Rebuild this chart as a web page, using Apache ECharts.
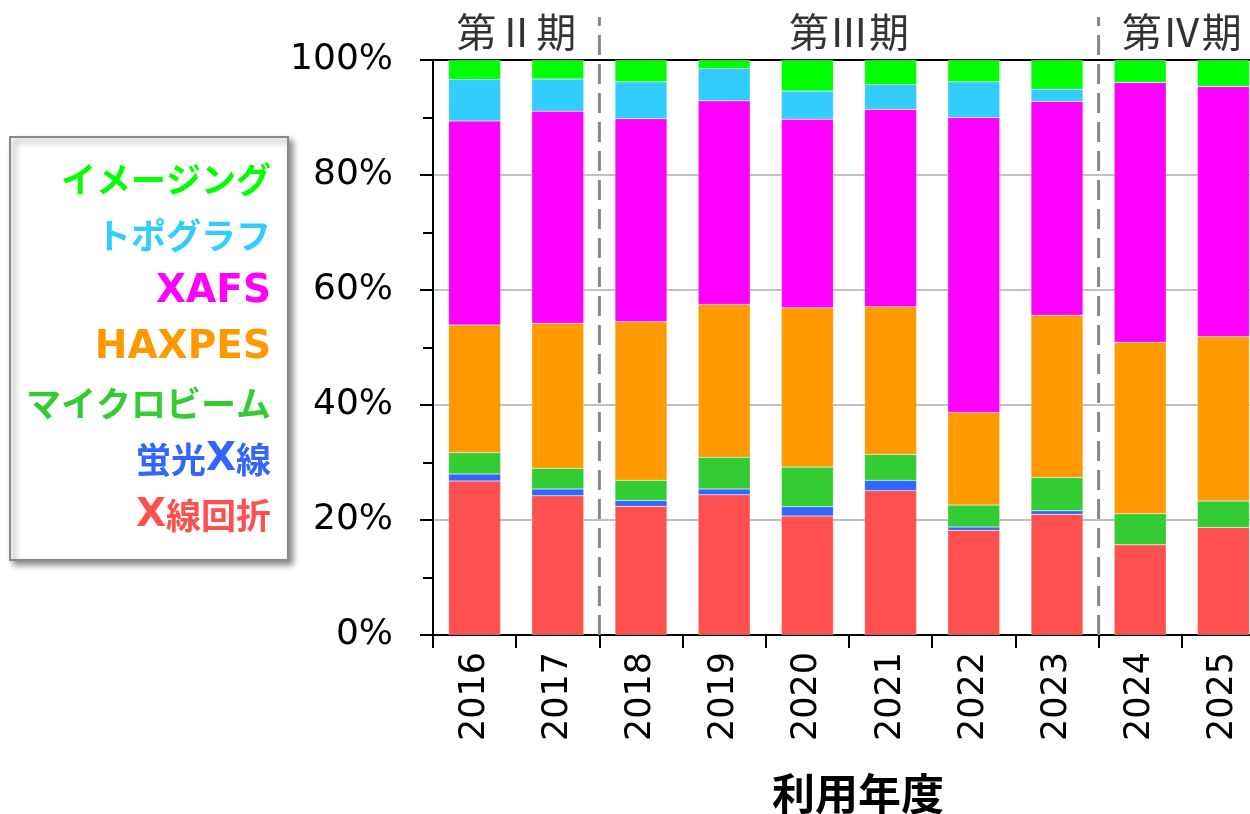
<!DOCTYPE html>
<html>
<head>
<meta charset="utf-8">
<script src="https://cdn.jsdelivr.net/npm/echarts@6/dist/echarts.min.js"></script>
<style>
  html, body { margin: 0; padding: 0; background: #fff; }
  #stackChart { width: 1250px; height: 814px; }
</style>
</head>
<body>
<div id="stackChart"></div>
<script>
// 利用年度
const years = ["2016", "2017", "2018", "2019", "2020", "2021", "2022", "2023", "2024", "2025"];
// 各手法の割合 (%)
const xrd = [26.8, 24.2, 22.4, 24.4, 20.7, 25.1, 18.2, 21.0, 15.7, 18.7]; // X線回折
const fluor = [1.2, 1.2, 1.0, 1.0, 1.6, 1.8, 0.6, 0.6, 0, 0]; // 蛍光X線
const micro = [3.7, 3.6, 3.5, 5.5, 6.9, 4.5, 3.8, 5.8, 5.4, 4.6]; // マイクロビーム
const haxpes = [22.2, 25.2, 27.6, 26.6, 27.7, 25.7, 16.1, 28.2, 29.8, 28.6];
const xafs = [35.5, 36.9, 35.3, 35.4, 32.8, 34.3, 51.3, 37.2, 45.2, 43.5];
const topo = [7.2, 5.6, 6.4, 5.6, 4.9, 4.3, 6.2, 2.1, 0, 0]; // トポグラフ
const imaging = [3.4, 3.3, 3.8, 1.5, 5.4, 4.3, 3.8, 5.1, 3.9, 4.6]; // イメージング

const seriesNames = ["X線回折", "蛍光X線", "マイクロビーム", "HAXPES", "XAFS", "トポグラフ", "イメージング"];
const seriesData = [xrd, fluor, micro, haxpes, xafs, topo, imaging];
const seriesColors = ["#FF5050", "#3366FF", "#33CC33", "#FF9900", "#FF00FF", "#33CCFF", "#00FF00"];

// 期の区切り
const periods = [
  { name: "第Ⅱ期", start: "2016", end: "2017" },
  { name: "第Ⅲ期", start: "2018", end: "2023" },
  { name: "第Ⅳ期", start: "2024", end: "2025" },
];

const jpFont = "Noto Sans CJK JP";
const numFont = "DejaVu Sans";

let chart = echarts.init(document.getElementById("stackChart"));

const barSeries = seriesNames.map((name, i) => ({
  name: name,
  type: "bar",
  stack: "total",
  barWidth: 52,
  xAxisIndex: 0,
  yAxisIndex: 0,
  itemStyle: { color: seriesColors[i], borderColor: "rgba(255,255,255,0.4)", borderWidth: 0.5 },
  data: seriesData[i],
}));

// 期の境界の破線
const dividerSeries = periods.slice(1).map((p) => {
  const b = years.indexOf(p.start);
  return {
    type: "line",
    xAxisIndex: 2,
    yAxisIndex: 1,
    symbol: "none",
    silent: true,
    z: 5,
    lineStyle: { color: "#888", width: 3, type: [20, 9] },
    data: [[b, 0], [b, 1]],
  };
});

// 期のラベル
const periodLabelSeries = {
  type: "scatter",
  xAxisIndex: 2,
  yAxisIndex: 1,
  symbolSize: 0,
  silent: true,
  clip: false,
  label: {
    show: true,
    position: "inside",
    offset: [0, 15],
    formatter: "{b}",
    color: "#000",
    fontFamily: jpFont,
    fontSize: 40,
  },
  data: periods.map((p) => ({
    name: p.name,
    value: [(years.indexOf(p.start) + years.indexOf(p.end) + 1) / 2, 1],
  })),
};

let option = {
  animation: false,
  grid: [
    { left: 433, width: 832, top: 60, bottom: 179, outerBoundsMode: "none", containLabel: false },
    { left: 433, width: 832, top: 17, bottom: 179, outerBoundsMode: "none", containLabel: false },
  ],
  legend: {
    orient: "vertical",
    left: 10,
    top: 137,
    align: "right",
    selectedMode: false,
    itemWidth: 0,
    itemHeight: 0,
    itemGap: 12,
    padding: [21, 11, 22, 16],
    backgroundColor: "#fff",
    borderColor: "#888",
    borderWidth: 2,
    shadowBlur: 6,
    shadowColor: "rgba(0,0,0,0.45)",
    shadowOffsetX: 4,
    shadowOffsetY: 4,
    data: seriesNames
      .map((name, i) => ({ name: name, icon: "rect", textStyle: { color: seriesColors[i] } }))
      .reverse(),
    formatter: (name) => name.replace(/([A-Za-z]+)/g, "{l|$1}"),
    textStyle: {
      fontFamily: jpFont,
      fontWeight: "bold",
      fontSize: 35,
      lineHeight: 44,
      rich: {
        l: { fontFamily: numFont, fontWeight: "bold", fontSize: 39, lineHeight: 44 },
      },
    },
  },
  xAxis: [
    {
      type: "category",
      gridIndex: 0,
      data: years,
      name: "利用年度",
      nameLocation: "middle",
      nameGap: 137,
      nameTextStyle: {
        fontFamily: jpFont,
        fontWeight: "bold",
        fontSize: 43,
        color: "#000",
        padding: [0, 0, 0, 18],
      },
      axisLine: { lineStyle: { color: "#000", width: 2 } },
      axisTick: { show: true, interval: 0, length: 13, lineStyle: { color: "#000", width: 2 } },
      axisLabel: {
        interval: 0,
        rotate: 90,
        margin: 17,
        color: "#000",
        fontFamily: numFont,
        fontSize: 35,
      },
    },
    {
      // 上辺の枠線
      type: "category",
      gridIndex: 0,
      position: "top",
      data: years,
      axisLine: { lineStyle: { color: "#000", width: 2 } },
      axisTick: { show: false },
      axisLabel: { show: false },
    },
    {
      type: "value",
      gridIndex: 1,
      min: 0,
      max: years.length,
      show: false,
    },
  ],
  yAxis: [
    {
      type: "value",
      gridIndex: 0,
      min: 0,
      max: 100,
      interval: 20,
      axisLine: { show: true, lineStyle: { color: "#000", width: 2 } },
      axisTick: { show: true, length: 13, lineStyle: { color: "#000", width: 2 } },
      minorTick: { show: true, splitNumber: 2, length: 10, lineStyle: { color: "#000", width: 2 } },
      splitLine: { lineStyle: { color: "#c0c0c0", width: 2 } },
      axisLabel: {
        formatter: "{value}%",
        margin: 40,
        color: "#000",
        fontFamily: numFont,
        fontSize: 36,
      },
    },
    {
      type: "value",
      gridIndex: 1,
      min: 0,
      max: 1,
      show: false,
    },
  ],
  series: [...barSeries, ...dividerSeries, periodLabelSeries],
};

chart.setOption(option);
window.addEventListener("resize", () => chart.resize(), true);
</script>
</body>
</html>
